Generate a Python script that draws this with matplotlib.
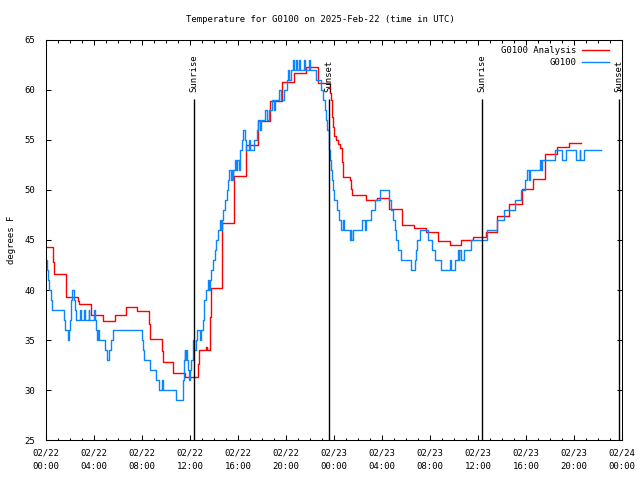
import datetime as dt
import matplotlib
matplotlib.use("Agg")
import matplotlib.pyplot as plt

# --- data (hours since 2025-02-22 00:00 UTC) ---

# analysis (red), held until the next entry
red_hours = [0.0, 0.6, 0.7, 1.64, 1.7, 2.68, 2.75, 3.72, 4.72, 5.72, 6.64, 7.6,
             8.6, 8.68, 9.64, 9.72, 10.6, 11.6, 12.7, 12.75, 13.35, 13.45, 13.7,
             13.78, 14.65, 15.67, 16.67, 17.67, 18.66, 19.67, 20.67, 21.66, 22.64,
             23.66, 23.78, 23.86, 23.93, 24.0, 24.15, 24.35, 24.5, 24.65, 24.72,
             25.33, 25.45, 25.5, 26.65, 27.55, 28.55, 29.65, 30.67, 31.67, 32.7,
             33.67, 34.6, 35.56, 36.67, 37.6, 38.6, 39.66, 40.55, 41.6, 42.55,
             43.55, 44.6]
red_temps = [44.3, 42.8, 41.6, 40.4, 39.3, 38.9, 38.6, 37.5, 36.9, 37.5, 38.3, 37.9,
             36.6, 35.1, 33.9, 32.8, 31.7, 31.3, 32.6, 34.0, 34.3, 34.0, 37.3,
             40.2, 46.7, 51.4, 54.5, 56.9, 58.9, 60.8, 61.7, 62.3, 60.7,
             59.7, 59.0, 57.3, 56.3, 55.4, 55.0, 54.6, 54.2, 52.8, 51.3,
             51.0, 50.1, 49.5, 49.0, 49.2, 48.1, 46.5, 46.2, 45.8, 44.9,
             44.5, 45.0, 45.3, 45.8, 47.4, 48.6, 50.1, 51.1, 53.6, 54.3,
             54.7, 54.7]

# observations (blue)
blue_hours = [0.00, 0.08, 0.17, 0.28, 0.40, 0.50, 1.53, 1.62, 1.80, 1.90, 1.97, 2.05,
              2.14, 2.33, 2.42, 2.50, 2.82, 2.90, 3.20, 3.27, 3.55, 3.62, 4.00, 4.08,
              4.15, 4.22, 4.30, 4.38, 4.95, 5.10, 5.22, 5.45, 5.62, 7.97, 8.05, 8.20,
              8.70, 9.15, 9.45, 9.70, 9.78, 10.83, 11.38, 11.42, 11.47, 11.52, 11.55,
              11.62, 11.68, 11.75, 11.85, 11.95, 12.02, 12.10, 12.25, 12.33, 12.50,
              12.62, 12.80, 12.90, 13.10, 13.20, 13.35, 13.50, 13.58, 13.66, 13.78,
              13.90, 14.05, 14.18, 14.30, 14.50, 14.60, 14.70, 14.77, 14.90, 15.05,
              15.18, 15.28, 15.40, 15.47, 15.55, 15.62, 15.75, 15.85, 15.95, 16.10,
              16.18, 16.30, 16.45, 16.55, 16.70, 16.90, 17.00, 17.30, 17.55, 17.70,
              17.85, 17.95, 18.25, 18.45, 18.55, 18.80, 19.00, 19.10, 19.45, 19.60,
              19.80, 20.05, 20.15, 20.25, 20.40, 20.60, 20.68, 20.85, 20.95, 21.10,
              21.20, 21.50, 21.58, 21.90, 21.97, 22.50, 22.90, 23.10, 23.25, 23.35,
              23.45, 23.55, 23.62, 23.67, 23.75, 23.83, 23.95, 24.03, 24.25, 24.45,
              24.62, 24.75, 24.82, 25.30, 25.38, 25.45, 25.55, 26.35, 26.60, 26.67,
              27.05, 27.45, 27.80, 28.55, 28.75, 28.95, 29.08, 29.20, 29.35, 29.55,
              30.40, 30.75, 30.82, 30.92, 31.15, 31.85, 32.20, 32.40, 32.95, 33.68,
              33.75, 34.08, 34.30, 34.38, 34.45, 34.60, 34.80, 35.45, 36.72, 37.55,
              38.20, 39.10, 39.55, 39.95, 40.10, 40.25, 40.35, 41.15, 41.25, 41.35,
              42.40, 42.97, 43.33, 44.20, 44.47, 44.52, 44.80, 46.25]
blue_temps = [43, 42, 41, 40, 39, 38, 37, 36, 35, 36, 37, 39,
              40, 39, 38, 37, 38, 37, 38, 37, 38, 37, 38, 37,
              36, 35, 36, 35, 34, 33, 34, 35, 36, 35, 34, 33,
              32, 31, 30, 31, 30, 29, 30, 31, 32, 33, 34,
              33, 34, 33, 32, 31, 32, 33, 35, 34, 35,
              36, 35, 36, 37, 39, 40, 41, 40, 41, 42,
              43, 44, 45, 46, 47, 46, 47, 48, 49, 50,
              51, 52, 51, 52, 51, 52, 53, 52, 53, 52,
              54, 55, 56, 55, 54, 55, 54, 55, 56, 57,
              56, 57, 58, 57, 58, 59, 58, 59, 60, 59,
              60, 61, 62, 61, 62, 63, 62, 63, 62, 63,
              62, 63, 62, 63, 62, 61, 60, 59, 58, 57,
              56, 55, 54, 53, 52, 51, 50, 49, 48, 47,
              46, 47, 46, 45, 46, 45, 46, 47, 46, 47,
              48, 49, 50, 49, 48, 47, 46, 45, 44, 43,
              42, 43, 44, 45, 46, 45, 44, 43, 42, 43,
              42, 43, 44, 43, 44, 43, 44, 45, 46, 47,
              48, 49, 50, 51, 52, 51, 52, 53, 52, 53,
              54, 53, 54, 53, 54, 53, 54, 54]

sun_hours = [12.36, 23.56, 36.31, 47.78]
sun_labels = ["Sunrise", "Sunset", "Sunrise", "Sunset"]

start = dt.datetime(2025, 2, 22)
tick_hours = list(range(0, 49, 4))
tick_labels = [(start + dt.timedelta(hours=h)).strftime("%m/%d\n%H:%M") for h in tick_hours]

# --- plotting ---
plt.rcParams["font.family"] = "DejaVu Sans Mono"
plt.rcParams["font.size"] = 6.5

fig = plt.figure(figsize=(6.4, 4.8), dpi=100)
ax = fig.add_axes([46 / 640, 40 / 480, 576 / 640, 400 / 480])

ax.step(red_hours, red_temps, where="post", color="#ff0000", lw=1.0, label="G0100 Analysis")
ax.step(blue_hours, blue_temps, where="post", color="#0a84ff", lw=1.0, label="G0100")

for h, lab in zip(sun_hours, sun_labels):
    ax.vlines(h, 25, 59.1, color="black", lw=1.0)
    ax.text(h, 59.8, lab, rotation=90, ha="center", va="bottom")

ax.set_xlim(0, 48)
ax.set_ylim(25, 65)
ax.set_xticks(tick_hours)
ax.set_xticklabels(tick_labels, linespacing=1.65)
ax.set_xticks(range(0, 49), minor=True)
ax.set_yticks(range(25, 66, 5))
ax.tick_params(which="both", direction="in", top=True, right=True, width=0.75)
ax.tick_params(which="major", length=3.5)
ax.tick_params(which="minor", length=1.8)
ax.tick_params(axis="x", pad=6)
ax.tick_params(axis="y", pad=8)
for s in ax.spines.values():
    s.set_linewidth(0.75)

ax.legend(loc="upper right", bbox_to_anchor=(0.988, 1.0), frameon=False,
          markerfirst=False, handlelength=3.0, handletextpad=0.6,
          labelspacing=0.35, borderaxespad=0.3)

fig.text(0.5, 1 - 20 / 480, "Temperature for G0100 on 2025-Feb-22 (time in UTC)",
         ha="center", va="center")
fig.text(12 / 640, 0.5, "degrees F", rotation=90, ha="center", va="center")

fig.savefig("out.png", dpi=100)
